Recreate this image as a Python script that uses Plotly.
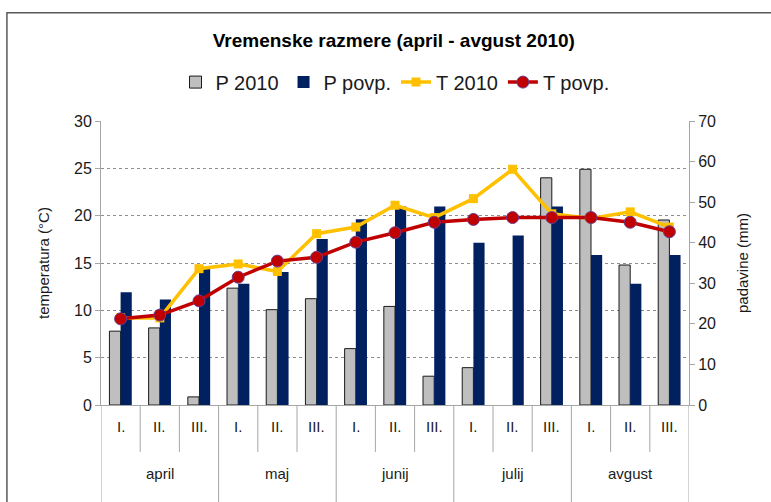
import plotly.graph_objects as go

months = ["april", "maj", "junij", "julij", "avgust"]
decades = ["I.", "II.", "III."]
p_2010 = [18.2, 19.0, 2.0, 28.8, 23.5, 26.2, 13.9, 24.3, 7.1, 9.2, 0.0, 56.0, 58.1, 34.5, 45.6]
p_povp = [27.8, 26.0, 33.5, 29.9, 32.8, 40.9, 45.8, 48.9, 48.9, 40.0, 41.8, 48.9, 37.0, 29.9, 37.0]
t_2010 = [9.2, 9.2, 14.4, 14.9, 14.1, 18.1, 18.8, 21.1, 19.8, 21.8, 24.9, 20.2, 19.7, 20.4, 18.8]
t_povp = [9.1, 9.5, 11.0, 13.5, 15.2, 15.6, 17.2, 18.2, 19.3, 19.6, 19.8, 19.8, 19.8, 19.3, 18.3]

n = len(p_2010)
x = list(range(n))
FONT = "Liberation Sans, Arial, sans-serif"
TXT = "#1a1a1a"

fig = go.Figure()
fig.add_trace(go.Bar(x=x, y=p_2010, name="P 2010", yaxis="y",
                     marker=dict(color="#BFBFBF",
                                 line=dict(color="#1a1a1a",
                                           width=[1 if v > 0 else 0 for v in p_2010]))))
fig.add_trace(go.Bar(x=x, y=p_povp, name="P povp.", yaxis="y",
                     marker=dict(color="#002060", line=dict(width=0))))
fig.add_trace(go.Scatter(x=x, y=t_2010, name="T 2010", yaxis="y2", mode="lines+markers",
                         line=dict(color="#FFC000", width=3.5),
                         marker=dict(symbol="square", size=9, color="#FFC000")))
fig.add_trace(go.Scatter(x=x, y=t_povp, name="T povp.", yaxis="y2", mode="lines+markers",
                         line=dict(color="#C00000", width=3.5),
                         marker=dict(symbol="circle", size=12, color="#C00000",
                                     line=dict(color="#6A3D8F", width=1))))

shapes = []
annotations = []
for i in range(n):
    annotations.append(dict(x=i, y=-0.113, xref="x", yref="paper", text=decades[i % 3],
                            showarrow=False, font=dict(size=15, color=TXT, family=FONT)))
for m, name in enumerate(months):
    annotations.append(dict(x=3 * m + 1, y=-0.278, xref="x", yref="paper", text=name,
                            showarrow=False, font=dict(size=15, color=TXT, family=FONT)))
for b in range(n + 1):
    y1 = -0.345 if b % 3 == 0 else -0.165
    shapes.append(dict(type="line", xref="x", yref="paper", x0=b - 0.5, x1=b - 0.5,
                       y0=0, y1=y1, line=dict(color="#A6A6A6", width=1)))
# outer chart frame
shapes.append(dict(type="rect", xref="paper", yref="paper", x0=-0.16, x1=1.2,
                   y0=-0.5, y1=1.381, line=dict(color="#595959", width=1.5),
                   fillcolor="rgba(0,0,0,0)", layer="below"))

fig.update_layout(
    width=771, height=502,
    margin=dict(l=101, r=82, t=121, b=97),
    paper_bgcolor="white", plot_bgcolor="white",
    font=dict(family=FONT, size=15, color=TXT),
    title=dict(text="<b>Vremenske razmere (april - avgust 2010)</b>", x=0.498, xref="paper",
               xanchor="center", y=(502 - 40) / 502, yanchor="middle",
               font=dict(size=19, family=FONT, color="#000000")),
    barmode="group", bargap=0.43, bargroupgap=0,
    showlegend=True,
    legend=dict(orientation="h", x=0.5, xanchor="center", y=1.137, yanchor="middle",
                font=dict(size=20, family=FONT, color=TXT), traceorder="normal",
                itemwidth=30, bgcolor="rgba(0,0,0,0)"),
    xaxis=dict(range=[-0.5, n - 0.5], showticklabels=False, ticks="", showgrid=False,
               showline=True, linecolor="#A6A6A6", linewidth=1, zeroline=False,
               fixedrange=True),
    yaxis=dict(range=[0, 70], dtick=10, side="right", showgrid=False, zeroline=False,
               showline=True, linecolor="#A6A6A6", linewidth=1,
               ticks="outside", ticklen=5, tickcolor="#A6A6A6",
               tickfont=dict(size=16, family=FONT, color=TXT),
               title=dict(text="padavine (mm)", standoff=22,
                          font=dict(size=15, family=FONT, color=TXT))),
    yaxis2=dict(range=[0, 30], dtick=5, side="left", overlaying="y", showgrid=True,
                gridcolor="#8C8C8C", griddash="dot", gridwidth=1, zeroline=False,
                showline=True, linecolor="#A6A6A6", linewidth=1,
                ticks="outside", ticklen=5, tickcolor="#A6A6A6",
                tickfont=dict(size=16, family=FONT, color=TXT),
                title=dict(text="temperatura (°C)", standoff=20,
                           font=dict(size=15, family=FONT, color=TXT))),
    shapes=shapes, annotations=annotations,
)

fig.write_html("out.html", config={"displayModeBar": False},
               post_script="document.body.style.margin='0px';")
